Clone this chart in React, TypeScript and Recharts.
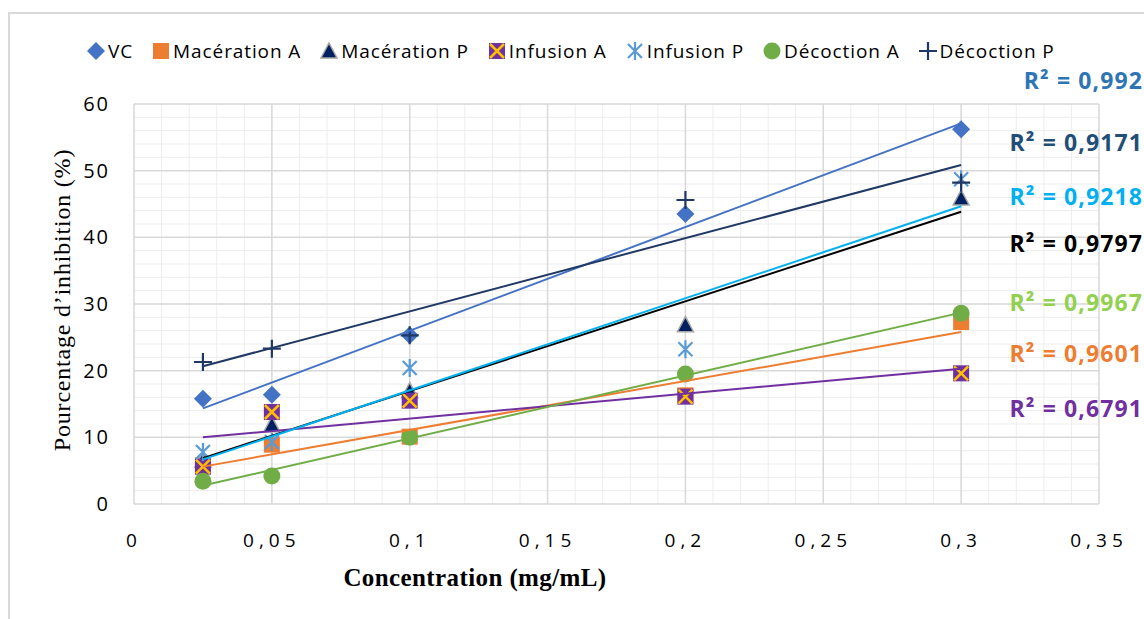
import React from "react";
import {
  ScatterChart,
  Scatter,
  XAxis,
  YAxis,
  CartesianGrid,
} from "recharts";

// concentrations (mg/mL) and % inhibition
const concentrations = [0.025, 0.05, 0.1, 0.2, 0.3];
const vc = [15.8, 16.4, 25.3, 43.5, 56.2];
const macerationA = [5.8, 8.9, 10.1, 16.3, 27.3];
const macerationP = [6.6, 11.9, 17.0, 26.9, 45.9];
const infusionA = [5.6, 13.8, 15.5, 16.1, 19.6];
const infusionP = [7.8, 9.3, 20.4, 23.2, 48.7];
const decoctionA = [3.4, 4.2, 10.0, 19.5, 28.6];
const decoctionP = [21.3, 23.3, 25.3, 45.6, 48.2];

const xTicks = [0, 0.05, 0.1, 0.15, 0.2, 0.25, 0.3, 0.35];
const yTicks = [0, 10, 20, 30, 40, 50, 60];
const minorXTicks = Array.from({ length: 36 }, (_, i) => +(i * 0.01).toFixed(2));
const minorYTicks = Array.from({ length: 31 }, (_, i) => i * 2);

type Marker = "diamond" | "square" | "triangle" | "squareX" | "asterisk" | "circle" | "plus";

interface Series {
  name: string;
  values: number[];
  marker: Marker;
  color: string;
  trendColor: string;
  r2: string;
  r2Color: string;
}

const series: Series[] = [
  { name: "VC", values: vc, marker: "diamond", color: "#4472C4", trendColor: "#4472C4", r2: "R² = 0,992", r2Color: "#2E75B6" },
  { name: "Macération A", values: macerationA, marker: "square", color: "#ED7D31", trendColor: "#ED7D31", r2: "R² = 0,9601", r2Color: "#ED7D31" },
  { name: "Macération P", values: macerationP, marker: "triangle", color: "#002060", trendColor: "#000000", r2: "R² = 0,9797", r2Color: "#000000" },
  { name: "Infusion A", values: infusionA, marker: "squareX", color: "#7030A0", trendColor: "#7030A0", r2: "R² = 0,6791", r2Color: "#7030A0" },
  { name: "Infusion P", values: infusionP, marker: "asterisk", color: "#5B9BD5", trendColor: "#00B0F0", r2: "R² = 0,9218", r2Color: "#00B0F0" },
  { name: "Décoction A", values: decoctionA, marker: "circle", color: "#70AD47", trendColor: "#70AD47", r2: "R² = 0,9967", r2Color: "#92D050" },
  { name: "Décoction P", values: decoctionP, marker: "plus", color: "#1F3864", trendColor: "#203864", r2: "R² = 0,9171", r2Color: "#1F4E79" },
];

// vertical centre of each R² label, in the order of the series above
const r2Top = [80, 353, 243, 408, 196, 302, 142];

const FONT = "'Open Sans', sans-serif";
const SERIF = "'Liberation Serif', 'Times New Roman', serif";

if (typeof document !== "undefined") document.body.style.margin = "0";

function toPoints(values: number[]) {
  return concentrations.map((x, i) => ({ x, y: values[i] }));
}

// least-squares line over the measured range
function trend(values: number[]) {
  const n = concentrations.length;
  const mx = concentrations.reduce((a, b) => a + b, 0) / n;
  const my = values.reduce((a, b) => a + b, 0) / n;
  let sxy = 0;
  let sxx = 0;
  concentrations.forEach((x, i) => {
    sxy += (x - mx) * (values[i] - my);
    sxx += (x - mx) * (x - mx);
  });
  const slope = sxy / sxx;
  const x0 = concentrations[0];
  const x1 = concentrations[n - 1];
  return [
    { x: x0, y: my + slope * (x0 - mx) },
    { x: x1, y: my + slope * (x1 - mx) },
  ];
}

function MarkerGlyph({ type, color, cx, cy }: { type: Marker; color: string; cx: number; cy: number }) {
  switch (type) {
    case "diamond":
      return <path d={`M${cx} ${cy - 9}L${cx + 9} ${cy}L${cx} ${cy + 9}L${cx - 9} ${cy}Z`} fill={color} />;
    case "square":
      return <rect x={cx - 8} y={cy - 8} width={16} height={16} fill={color} />;
    case "triangle":
      return (
        <path
          d={`M${cx} ${cy - 8}L${cx + 8} ${cy + 7}L${cx - 8} ${cy + 7}Z`}
          fill={color}
          stroke="#A5A5A5"
          strokeWidth={1.5}
        />
      );
    case "squareX":
      return (
        <g>
          <rect x={cx - 8} y={cy - 8} width={16} height={16} fill={color} />
          <path
            d={`M${cx - 7} ${cy - 7}L${cx + 7} ${cy + 7}M${cx + 7} ${cy - 7}L${cx - 7} ${cy + 7}`}
            stroke="#FFC000"
            strokeWidth={2.5}
          />
        </g>
      );
    case "asterisk":
      return (
        <path
          d={`M${cx - 7} ${cy - 7}L${cx + 7} ${cy + 7}M${cx + 7} ${cy - 7}L${cx - 7} ${cy + 7}M${cx} ${cy - 9}L${cx} ${cy + 9}`}
          stroke={color}
          strokeWidth={2.2}
        />
      );
    case "circle":
      return <circle cx={cx} cy={cy} r={8.5} fill={color} />;
    case "plus":
      return (
        <path
          d={`M${cx - 9} ${cy}L${cx + 9} ${cy}M${cx} ${cy - 9}L${cx} ${cy + 9}`}
          stroke={color}
          strokeWidth={2.2}
        />
      );
  }
  return null;
}

function ChartLegend() {
  return (
    <div
      style={{
        position: "absolute",
        top: 38,
        left: 87,
        display: "flex",
        alignItems: "center",
        fontFamily: FONT,
        fontSize: 19,
        letterSpacing: 0.9,
        color: "#000",
        whiteSpace: "nowrap",
      }}
    >
      {series.map((s) => (
        <div key={s.name} style={{ display: "flex", alignItems: "center", marginRight: 19 }}>
          <svg width={18} height={20} style={{ marginRight: 3 }}>
            <MarkerGlyph type={s.marker} color={s.color} cx={9} cy={10} />
          </svg>
          <span>{s.name}</span>
        </div>
      ))}
    </div>
  );
}

// minor grid positions through the axis scale when available
function minorVertical(props: any) {
  const scale = props?.xAxis?.scale;
  if (typeof scale === "function") return minorXTicks.map((v) => scale(v));
  const { left, width } = props.offset;
  return minorXTicks.map((v) => left + (v / 0.35) * width);
}

function minorHorizontal(props: any) {
  const scale = props?.yAxis?.scale;
  if (typeof scale === "function") return minorYTicks.map((v) => scale(v));
  const { top, height } = props.offset;
  return minorYTicks.map((v) => top + height - (v / 60) * height);
}

export default function App() {
  return (
    <div style={{ position: "relative", width: 1144, height: 619, overflow: "hidden", background: "#fff" }}>
      <div
        style={{
          position: "absolute",
          left: 8,
          top: 12,
          width: 1200,
          height: 700,
          border: "2px solid #D9D9D9",
        }}
      />
      <ScatterChart width={1144} height={619} margin={{ top: 104, right: 45, bottom: 0, left: 0 }}>
        <CartesianGrid
          stroke="#EDEDED"
          verticalCoordinatesGenerator={minorVertical}
          horizontalCoordinatesGenerator={minorHorizontal}
        />
        <CartesianGrid stroke="#D9D9D9" strokeWidth={1.5} />
        <XAxis
          type="number"
          dataKey="x"
          domain={[0, 0.35]}
          ticks={xTicks}
          height={115}
          axisLine={false}
          tickLine={false}
          tickSize={0}
          tickMargin={30}
          tickFormatter={(v: number) => String(v).replace(".", ",")}
          tick={{ fontSize: 19, fill: "#000", fontFamily: FONT, letterSpacing: 5 }}
          label={{
            content: () => (
              <text
                x={475}
                y={586}
                textAnchor="middle"
                fontFamily={SERIF}
                fontWeight="bold"
                fontSize={25}
                letterSpacing={0.4}
                fill="#000"
              >
                Concentration (mg/mL)
              </text>
            ),
          }}
        />
        <YAxis
          type="number"
          dataKey="y"
          domain={[0, 60]}
          ticks={yTicks}
          width={134}
          axisLine={false}
          tickLine={false}
          tickSize={0}
          tickMargin={24}
          tick={{ fontSize: 20, fill: "#000", fontFamily: FONT, letterSpacing: 2 }}
          label={{
            content: () => (
              <text
                x={62}
                y={300}
                transform="rotate(-90 62 300)"
                textAnchor="middle"
                dominantBaseline="central"
                fontFamily={SERIF}
                fontSize={24}
                letterSpacing={0.8}
                fill="#000"
              >
                Pourcentage d’inhibition (%)
              </text>
            ),
          }}
        />
        {series.map((s) => (
          <Scatter
            key={s.name}
            name={s.name}
            data={toPoints(s.values)}
            isAnimationActive={false}
            shape={(p: any) => <MarkerGlyph type={s.marker} color={s.color} cx={p.cx} cy={p.cy} />}
          />
        ))}
        {series.map((s) => (
          <Scatter
            key={s.name + "-trend"}
            data={trend(s.values)}
            isAnimationActive={false}
            legendType="none"
            line={{ stroke: s.trendColor, strokeWidth: 2 }}
            shape={() => <g />}
          />
        ))}
      </ScatterChart>
      <ChartLegend />
      {series.map((s, i) => (
        <div
          key={s.r2}
          style={{
            position: "absolute",
            right: 1,
            top: r2Top[i] - 14,
            fontFamily: FONT,
            fontWeight: 700,
            fontSize: 23,
            lineHeight: "28px",
            letterSpacing: 1.1,
            color: s.r2Color,
            whiteSpace: "nowrap",
          }}
        >
          {s.r2}
        </div>
      ))}
    </div>
  );
}
